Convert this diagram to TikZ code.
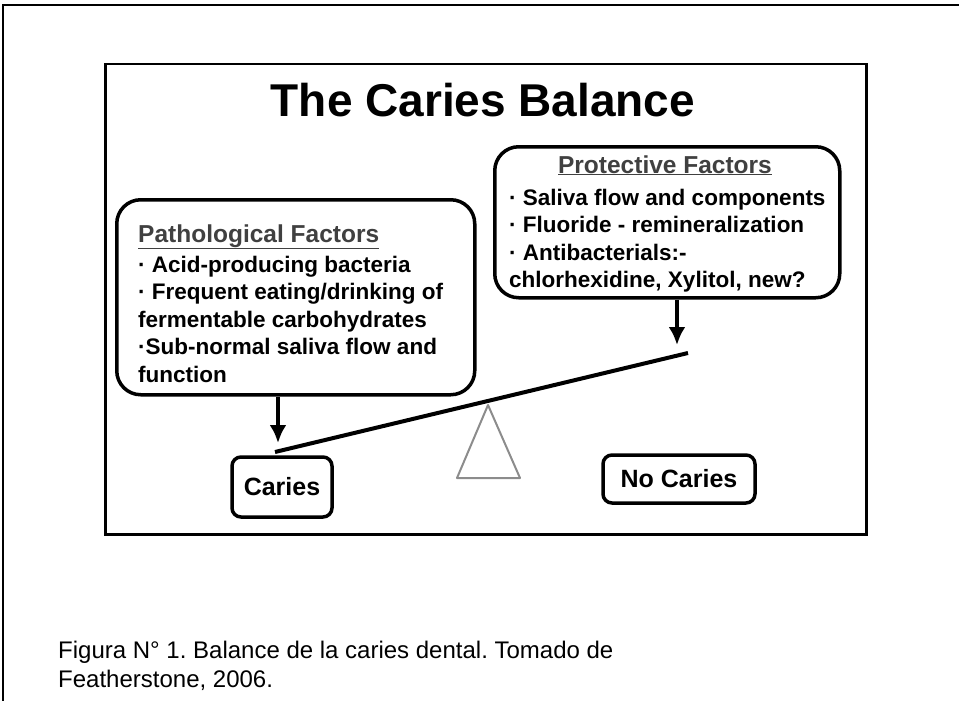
\documentclass[tikz,border=0pt]{standalone}
\usepackage{fontspec}
\setmainfont{Liberation Sans}
\usetikzlibrary{arrows.meta}
\frenchspacing

\begin{document}
\begin{tikzpicture}[
    x=1pt, y=-1pt,
    every node/.style={inner sep=0pt, font=\bfseries\fontsize{22.5}{27.5}\selectfont},
    factorbox/.style={draw, line width=3.5pt, rounded corners=24pt},
    factortext/.style={align=left, anchor=north west},
    heading/.style={text=black!75, font=\bfseries\fontsize{24.5}{27.5}\selectfont},
    outcome/.style={draw, line width=3.5pt, rounded corners=9pt, font=\bfseries\fontsize{25}{30}\selectfont},
    flow/.style={-{Latex[length=18pt, width=17pt]}, line width=4pt},
    beam/.style={line width=4pt},
    fulcrum/.style={draw=black!45, line width=2pt, line join=round},
    frame/.style={line width=2pt}
]
\useasboundingbox (0,0) rectangle (959,701);
% page frame, open on the right
\draw[frame] (959,5) -- (3,5) -- (3,701);
\node[draw, line width=2.5pt, minimum width=761pt, minimum height=470pt, anchor=north west] (slide) at (104,63) {};
\node[font=\bfseries\fontsize{46}{50}\selectfont, anchor=base] (title) at (483,117) {The Caries Balance};

% the two groups of factors
\node[factorbox, minimum width=358pt, minimum height=195pt, anchor=north west] (pathbox) at (115,198) {};
\node[heading, anchor=base west] (pathhead) at (138,242) {\underline{Pathological Factors}};
\node[factortext] (pathtext) at (138,255.5) {· Acid-producing bacteria\\
    · Frequent eating/drinking of\\
    fermentable carbohydrates\\
    ·Sub-normal saliva flow and\\
    function};
\node[factorbox, minimum width=345pt, minimum height=151pt, anchor=north west] (protbox) at (493,145) {};
\node[heading, anchor=base] (prothead) at (665,173) {\underline{Protective Factors}};
\node[factortext] (prottext) at (509,188.5) {· Saliva flow and components\\
    · Fluoride - remineralization\\
    · Antibacterials:-\\
    chlorhexidine, Xylitol, new?};

% the balance
\coordinate (beamL) at (275,452);
\coordinate (beamR) at (688,353);
\coordinate (tipL) at (278,443);
\coordinate (tipR) at (677,345);
\coordinate (apex) at (488,405);
\draw[flow] (pathbox.south -| tipL) -- (tipL);
\draw[flow] (protbox.south -| tipR) -- (tipR);
\draw[beam] (beamL) -- (beamR);
\draw[fulcrum] (apex) -- ++(-31,73) -- ++(63,0) -- cycle;
\node[outcome, minimum width=100pt, minimum height=60pt] (caries) at (282,487) {Caries};
\node[outcome, minimum width=152pt, minimum height=48pt] (nocaries) at (679,479) {No Caries};

\node[font=\fontsize{24}{29}\selectfont, align=left, anchor=north west] (caption) at (58,641) {Figura N° 1. Balance de la caries dental. Tomado de\\
    Featherstone, 2006.};
\end{tikzpicture}
\end{document}
